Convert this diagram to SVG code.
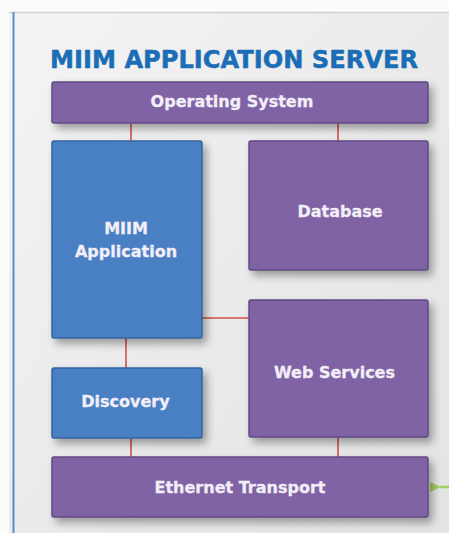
<svg xmlns="http://www.w3.org/2000/svg" width="449" height="533" viewBox="0 0 449 533">
<defs>
<linearGradient id="bg" x1="0" y1="0" x2="1" y2="1">
<stop offset="0" stop-color="#f4f4f5"/>
<stop offset="0.5" stop-color="#ebebec"/>
<stop offset="1" stop-color="#e4e4e6"/>
</linearGradient>
<filter id="sh" x="-20%" y="-20%" width="150%" height="160%">
<feDropShadow dx="4" dy="5" stdDeviation="4" flood-color="#000" flood-opacity="0.35"/>
</filter>
<marker id="ga" markerWidth="12" markerHeight="12" refX="1" refY="6" orient="auto" markerUnits="userSpaceOnUse">
<path d="M11,1 L0,6 L11,11 Z" fill="#a2d062"/>
</marker>
<style>
.purple{fill:#8064a4;stroke:#5f4a84;stroke-width:1.5}
.blue{fill:#4a80c4;stroke:#35649e;stroke-width:1.5}
.lbl{font-family:"DejaVu Sans",Verdana,sans-serif;font-weight:bold;font-size:16px;fill:#f3eef8;stroke:#f3eef8;stroke-width:0.3;text-anchor:middle}
.con{stroke:#d0504a;stroke-width:1.6;fill:none}
</style>
</defs>
<rect x="0" y="0" width="449" height="533" fill="#fbfbfb"/>
<rect x="9" y="12" width="440" height="521" fill="url(#bg)"/>
<line x1="9" y1="12.5" x2="449" y2="12.5" stroke="#cfd3d8" stroke-width="1.5"/>
<line x1="13.5" y1="12" x2="13.5" y2="533" stroke="#5b8ccc" stroke-width="2"/>
<text x="234" y="68" font-family="DejaVu Sans,Verdana,sans-serif" font-weight="bold" font-size="24" fill="#1b6db5" stroke="#1b6db5" stroke-width="0.5" text-anchor="middle" textLength="368" lengthAdjust="spacingAndGlyphs">MIIM APPLICATION SERVER</text>
<g id="connectors">
<line class="con" x1="131" y1="123" x2="131" y2="141"/>
<line class="con" x1="338" y1="123" x2="338" y2="141"/>
<line class="con" x1="202" y1="318" x2="249" y2="318"/>
<line class="con" x1="126" y1="338" x2="126" y2="368"/>
<line class="con" x1="131" y1="438" x2="131" y2="457"/>
<line class="con" x1="338" y1="437" x2="338" y2="457"/>
<line x1="449" y1="487" x2="440" y2="487" stroke="#a2d062" stroke-width="2.5" marker-end="url(#ga)"/>
</g>
<g id="os">
<rect class="purple" x="52" y="82" width="376" height="41" rx="2" filter="url(#sh)"/>
<text class="lbl" x="232" y="107">Operating System</text>
</g>
<g id="miim">
<rect class="blue" x="52" y="141" width="150" height="197" rx="2" filter="url(#sh)"/>
<text class="lbl" x="126" y="234">MIIM</text>
<text class="lbl" x="126" y="257">Application</text>
</g>
<g id="database">
<rect class="purple" x="249" y="141" width="179" height="129" rx="2" filter="url(#sh)"/>
<text class="lbl" x="340" y="217">Database</text>
</g>
<g id="webservices">
<rect class="purple" x="249" y="300" width="179" height="137" rx="2" filter="url(#sh)"/>
<text class="lbl" x="334.5" y="378">Web Services</text>
</g>
<g id="discovery">
<rect class="blue" x="52" y="368" width="150" height="70" rx="2" filter="url(#sh)"/>
<text class="lbl" x="125.5" y="407">Discovery</text>
</g>
<g id="ethernet">
<rect class="purple" x="52" y="457" width="376" height="60" rx="2" filter="url(#sh)"/>
<text class="lbl" x="240" y="493">Ethernet Transport</text>
</g>
</svg>
